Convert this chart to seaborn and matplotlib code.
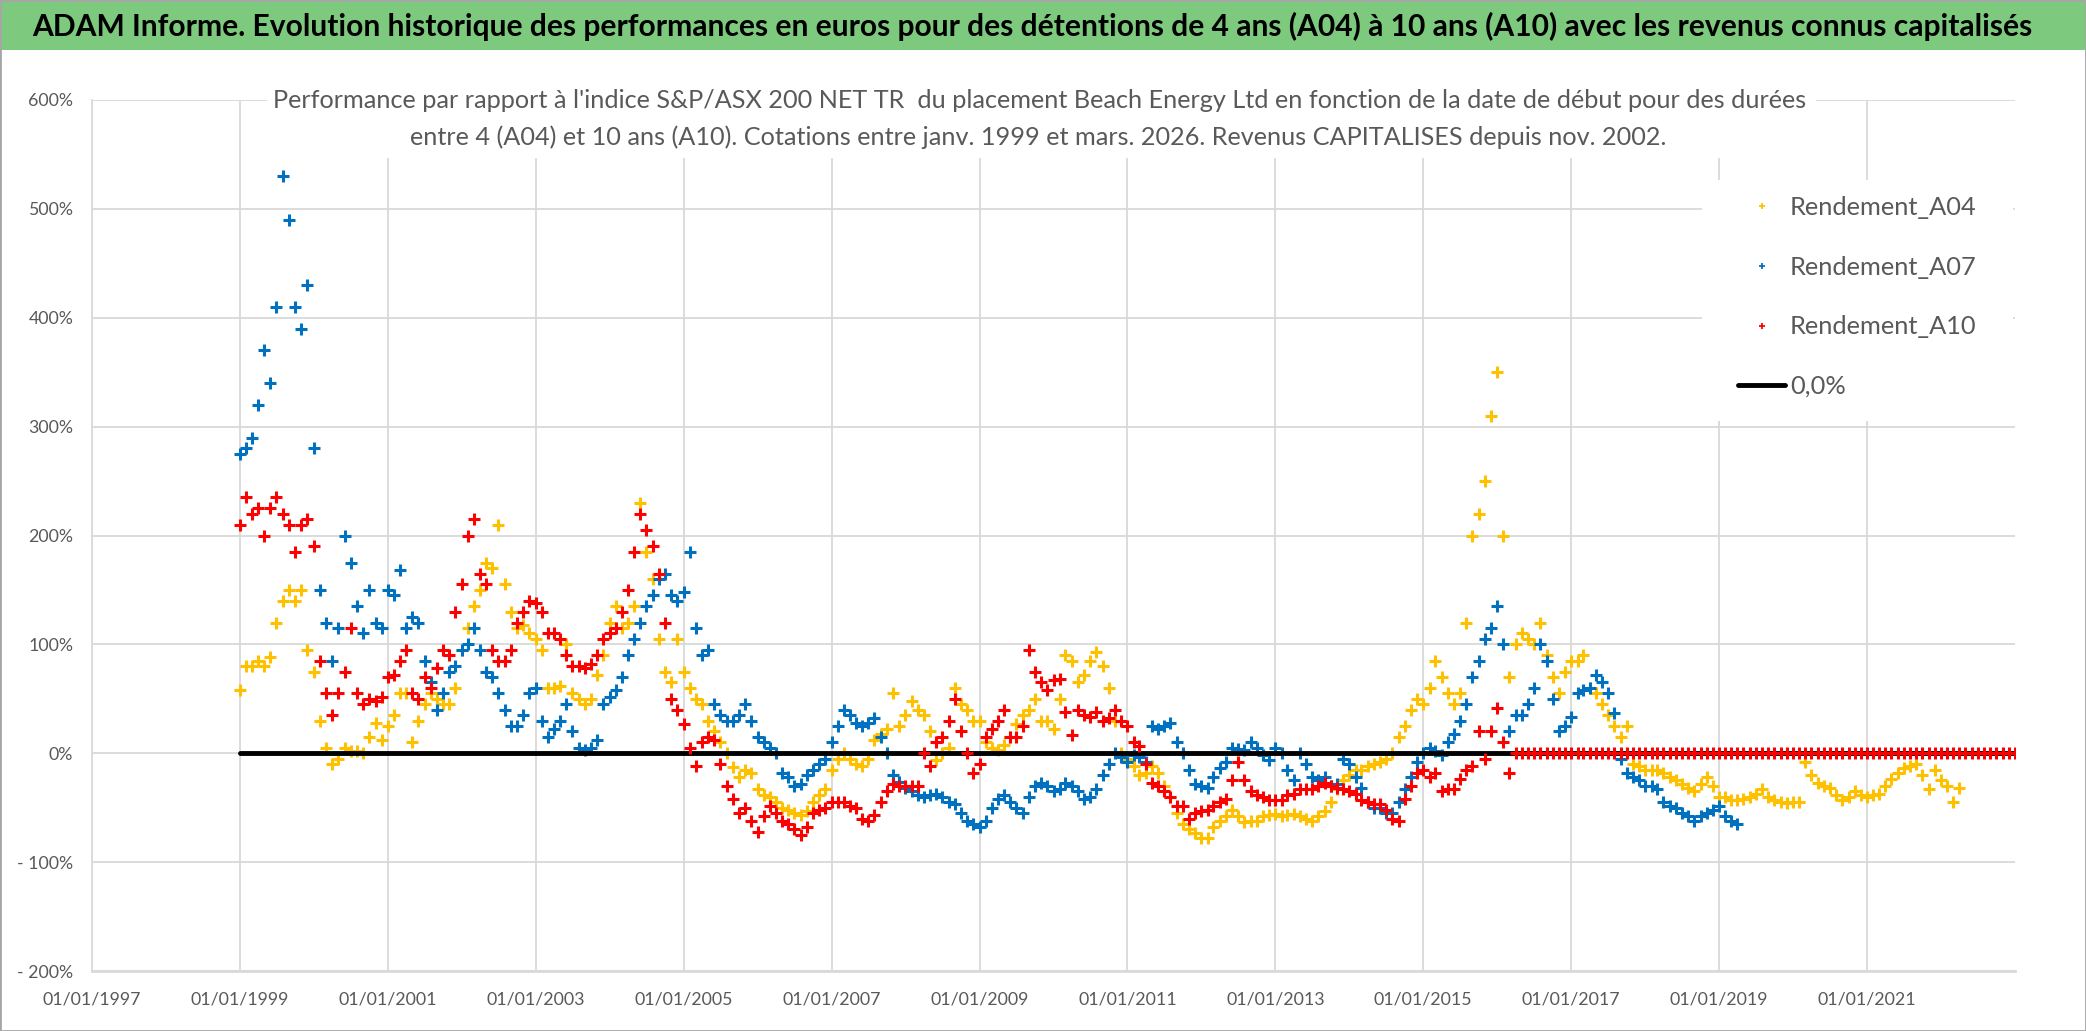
import pandas as pd
import matplotlib.pyplot as plt
from matplotlib.lines import Line2D
from matplotlib.patches import Rectangle
import seaborn as sns

# performance (%), one value per month from 01/1999
a04 = [
    58, 80, 80, 85, 80, 88, 120, 140, 150, 140, 150, 95,
    75, 30, 5, -10, -5, 5, 2, 2, 0, 15, 28, 12,
    25, 35, 55, 55, 10, 30, 45, 55, 50, 45, 45, 60,
    95, 115, 135, 150, 175, 170, 210, 155, 130, 115, 118, 110,
    105, 95, 60, 60, 62, 100, 55, 50, 45, 50, 72, 90,
    120, 135, 115, 120, 135, 230, 185, 160, 105, 75, 65, 105,
    75, 60, 50, 45, 30, 20, 10, 0, -13, -22, -15, -18,
    -33, -38, -40, -45, -50, -52, -55, -57, -53, -45, -38, -33,
    -15, -5, 0, -5, -10, -12, -5, 12, 18, 22, 55, 25,
    35, 48, 40, 35, 20, -6, 0, 5, 60, 45, 40, 30,
    30, 10, 5, 3, 8, 15, 27, 35, 40, 50, 30, 30,
    22, 50, 90, 85, 65, 72, 85, 93, 80, 60, 30, 0,
    -5, -12, -20, -18, -12, -18, -30, -40, -55, -65, -70, -73,
    -78, -78, -68, -62, -58, -52, -58, -63, -62, -62, -58, -57,
    -56, -58, -57, -56, -58, -60, -62, -58, -53, -45, -33, -25,
    -20, -15, -15, -12, -10, -8, -5, 0, 15, 25, 40, 50,
    45, 60, 85, 70, 55, 45, 55, 120, 200, 220, 250, 310,
    350, 200, 70, 100, 110, 105, 100, 120, 90, 70, 55, 75,
    85, 85, 90, 60, 55, 45, 35, 25, 15, 25, -10, -12,
    -15, -15, -15, -18, -22, -25, -28, -32, -35, -28, -22, -30,
    -40, -40, -43, -43, -42, -40, -37, -33, -40, -43, -45, -46,
    -45, -45, -8, -20, -27, -30, -32, -38, -43, -40, -35, -38,
    -40, -38, -37, -30, -24, -18, -14, -12, -10, -20, -33, -15,
    -25, -30, -45, -32,
]

a07 = [
    275, 280, 290, 320, 370, 340, 410, 530, 490, 410, 390, 430,
    280, 150, 120, 85, 115, 200, 175, 135, 110, 150, 120, 115,
    150, 145, 168, 115, 125, 120, 85, 65, 40, 55, 75, 80,
    95, 100, 115, 95, 75, 70, 55, 40, 25, 25, 35, 55,
    60, 30, 15, 22, 30, 45, 20, 5, 3, 5, 12, 45,
    52, 58, 70, 90, 105, 120, 135, 145, 160, 165, 145, 140,
    148, 185, 115, 90, 95, 45, 35, 30, 30, 35, 45, 30,
    15, 10, 5, 0, -18, -22, -30, -28, -20, -15, -10, -5,
    10, 25, 40, 35, 28, 25, 28, 32, 15, 0, -20, -26,
    -32, -35, -38, -40, -38, -37, -40, -45, -47, -55, -62, -65,
    -68, -62, -50, -42, -38, -45, -50, -55, -40, -30, -27, -30,
    -35, -33, -27, -30, -35, -42, -40, -33, -20, -10, 0, -3,
    -8, -2, -3, -8, 25, 22, 25, 28, 10, 0, -15, -28,
    -30, -32, -22, -14, -8, 5, 4, 3, 10, 5, -2, -6,
    5, 0, -15, -25, 0, -10, -22, -25, -22, -30, -28, -5,
    -10, -22, -32, -45, -50, -50, -55, -55, -45, -33, -22, -8,
    0, 5, 2, -2, 10, 18, 30, 45, 70, 85, 105, 115,
    135, 100, 20, 35, 35, 45, 60, 100, 85, 50, 20, 25,
    33, 55, 58, 60, 72, 65, 55, 37, -5, -18, -22, -25,
    -30, -30, -33, -45, -48, -50, -55, -58, -62, -58, -55, -52,
    -48, -58, -62, -65,
]

a10 = [
    210, 235, 220, 225, 200, 225, 235, 220, 210, 185, 210, 215,
    190, 85, 55, 35, 55, 75, 115, 55, 45, 50, 48, 52,
    70, 72, 85, 95, 55, 50, 70, 60, 78, 95, 90, 130,
    155, 200, 215, 165, 155, 95, 85, 85, 95, 120, 130, 140,
    138, 130, 110, 110, 105, 90, 80, 80, 78, 82, 90, 105,
    110, 115, 130, 150, 185, 220, 205, 190, 165, 120, 50, 40,
    27, 5, -12, 10, 15, 12, -10, -30, -42, -55, -50, -62,
    -72, -58, -48, -55, -62, -65, -70, -75, -68, -55, -52, -50,
    -45, -45, -45, -48, -50, -60, -62, -57, -45, -35, -28, -30,
    -30, -30, -30, 0, -12, 10, 15, 30, 50, 20, 0, -18,
    -10, 15, 22, 30, 40, 15, 15, 25, 95, 75, 65, 58,
    67, 68, 38, 17, 40, 35, 33, 38, 30, 32, 40, 30,
    25, 10, 7, -10, -27, -30, -35, -40, -48, -48, -60, -55,
    -53, -52, -48, -45, -42, -25, -8, -25, -35, -38, -40, -43,
    -43, -43, -38, -37, -33, -33, -33, -30, -27, -30, -32, -33,
    -35, -37, -43, -45, -47, -47, -52, -60, -62, -42, -30, -18,
    -15, -22, -18, -35, -33, -33, -24, -15, -12, 20, -5, 20,
    42, 10, -18,
    # no 10-year result yet after 03/2016: plotted at 0
    0, 0, 0, 0, 0, 0, 0, 0, 0,
    0, 0, 0, 0, 0, 0, 0, 0, 0, 0, 0, 0,
    0, 0, 0, 0, 0, 0, 0, 0, 0, 0, 0, 0,
    0, 0, 0, 0, 0, 0, 0, 0, 0, 0, 0, 0,
    0, 0, 0, 0, 0, 0, 0, 0, 0, 0, 0, 0,
    0, 0, 0, 0, 0, 0, 0, 0, 0, 0, 0, 0,
    0, 0, 0, 0, 0, 0, 0, 0, 0, 0, 0, 0,
    0,
]

zero_dates = ["1999-01-01", "2023-01-01"]
zero_vals = [0, 0]

series_names = ["Rendement_A04", "Rendement_A07", "Rendement_A10"]
series_colors = ["#FFC000", "#0070C0", "#FF0000"]

x_tick_years = [1997, 1999, 2001, 2003, 2005, 2007, 2009, 2011, 2013, 2015, 2017, 2019, 2021]
y_ticks = [-200, -100, 0, 100, 200, 300, 400, 500, 600]
y_tick_labels = ["- 200%", "- 100%", "0%", "100%", "200%", "300%", "400%", "500%", "600%"]

title = ("ADAM Informe. Evolution historique des performances en euros pour des détentions "
         "de 4 ans (A04) à 10 ans (A10) avec les revenus connus capitalisés")
sub1 = ("Performance par rapport à l'indice S&P/ASX 200 NET TR  du placement Beach Energy Ltd "
        "en fonction de la date de début pour des durées")
sub2 = ("entre 4 (A04) et 10 ans (A10). Cotations entre janv. 1999 et mars. 2026. "
        "Revenus CAPITALISES depuis nov. 2002.")


def monthly(vals):
    return pd.DataFrame({"date": pd.date_range("1999-01-01", periods=len(vals), freq="MS"),
                         "perf": vals})


sns.set_theme(style="white")
plt.rcParams["font.family"] = ["Lato", "DejaVu Sans"]

W, H = 2086, 1031
fig = plt.figure(figsize=(W / 100, H / 100), dpi=100)
renderer = fig.canvas.get_renderer()


def fit_size(text, width_px, **kw):
    t = fig.text(0, 0, text, fontsize=10, **kw)
    w = t.get_window_extent(renderer).width
    t.remove()
    return 10 * width_px / w


grey = "#595959"

# title band
fig.patches.append(Rectangle((0, 1 - 50 / H), 1, 50 / H, transform=fig.transFigure,
                             facecolor="#7DC97D", edgecolor="none", zorder=0))
fig.patches.append(Rectangle((0, 0), 1, 1, transform=fig.transFigure, fill=False,
                             edgecolor="#A6A6A6", lw=2, zorder=5))
fig.text(1032 / W, 1 - 26 / H, title, ha="center", va="center", color="black",
         fontweight="bold", fontsize=fit_size(title, 2006, fontweight="bold"))

ax = fig.add_axes([92 / W, 1 - 971 / H, (2015 - 92) / W, (971 - 100) / H])

for vals, name, col in zip([a04, a07], series_names[:2], series_colors[:2]):
    sns.scatterplot(data=monthly(vals), x="date", y="perf", marker="+", s=80,
                    linewidth=2.2, color=col, ax=ax, legend=False, zorder=2)

zero_df = pd.DataFrame({"date": pd.to_datetime(zero_dates), "perf": zero_vals})
sns.lineplot(data=zero_df, x="date", y="perf", color="black", lw=3.5, ax=ax, zorder=3)

sns.scatterplot(data=monthly(a10), x="date", y="perf", marker="+", s=80,
                linewidth=2.2, color=series_colors[2], ax=ax, legend=False, zorder=4)

ax.set_xlim(pd.Timestamp("1997-01-01"), pd.Timestamp("2023-01-01"))
ax.set_ylim(-200, 600)
ax.set_xticks([pd.Timestamp(f"{y}-01-01") for y in x_tick_years])
ax.set_xticklabels([f"01/01/{y}" for y in x_tick_years])
ax.set_yticks(y_ticks)
ax.set_yticklabels(y_tick_labels)
ax.set_xlabel("")
ax.set_ylabel("")

fs_x = fit_size("01/01/1997", 98)
fs_y = fit_size("600%", 45)
ax.tick_params(axis="x", length=0, pad=15, labelsize=fs_x, labelcolor=grey)
ax.tick_params(axis="y", length=0, pad=13.5, labelsize=fs_y, labelcolor=grey)

ax.grid(True, color="#D9D9D9", lw=1.3)
ax.set_axisbelow(True)
for side in ["top", "right"]:
    ax.spines[side].set_visible(False)
ax.spines["left"].set_color("#D9D9D9")
ax.spines["bottom"].set_color("#D9D9D9")
ax.spines["bottom"].set_linewidth(2)

# white boxes behind subtitle and legend (hide the grid there)
for x0, y0, x1, y1 in [(267, 60, 1816, 158), (1702, 180, 2013, 421)]:
    ax.add_patch(Rectangle((x0 / W, 1 - y1 / H), (x1 - x0) / W, (y1 - y0) / H,
                           transform=fig.transFigure, facecolor="white",
                           edgecolor="none", zorder=1))

fs_sub = fit_size(sub1, 1534)
fig.text(1040 / W, 1 - 100 / H, sub1, ha="center", va="center", color=grey, fontsize=fs_sub)
fig.text(1038 / W, 1 - 137 / H, sub2, ha="center", va="center", color=grey, fontsize=fs_sub)

fs_leg = fit_size("Rendement_A04", 187)
em = fs_leg * 100 / 72
handles = [Line2D([], [], marker="+", ls="none", color=c, markersize=5, mew=1.3)
           for c in series_colors]
handles.append(Line2D([], [], color="black", lw=3.5))
fig.legend(handles, series_names + ["0,0%"], loc="upper left",
           bbox_to_anchor=(1738 / W, 1 - (212 - 0.62 * em) / H),
           frameon=False, fontsize=fs_leg, labelcolor=grey,
           handlelength=47 / em, handletextpad=5 / em,
           labelspacing=(67 - 1.2 * em) / em, borderpad=0, borderaxespad=0)

fig.savefig("out.png", dpi=100)
